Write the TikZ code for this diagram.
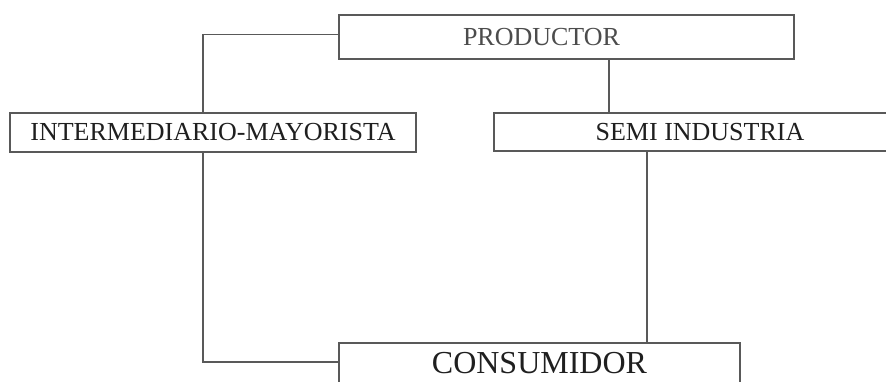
\documentclass[tikz,border=0pt]{standalone}
\usepackage{fontspec}
\setmainfont{Liberation Serif}
\begin{document}
\begin{tikzpicture}[x=1pt,y=-1pt,
    caja/.style={draw=black!65, line width=1.2pt, rectangle, inner sep=0pt, text=black!88, font=\fontsize{26}{28}\selectfont},
    linea/.style={draw=black!65, line width=1.2pt}]
    \clip (0,0) rectangle (886,382);
    \node [caja, text=black!70, minimum height=44pt, inner xsep=124pt, text width=207pt, align=left] (prod) at (566.5,37) {PRODUCTOR};
    \node [caja, minimum width=406pt, minimum height=39pt] (inter) at (213,132.5) {INTERMEDIARIO-MAYORISTA};
    \node [caja, minimum width=412pt, minimum height=38pt] (semi) at (700,132) {SEMI INDUSTRIA};
    \node [caja, font=\fontsize{32}{34}\selectfont, minimum width=401pt, minimum height=41pt] (cons) at (539.5,363.5) {CONSUMIDOR};
    \draw [linea] ([yshift=2.5pt]prod.west) -| ([xshift=-10pt]inter.north);
    \draw [linea] ([xshift=42.5pt]prod.south) -- ([xshift=-91pt]semi.north);
    \draw [linea] ([xshift=-10pt]inter.south) |- ([yshift=1.5pt]cons.west);
    \draw [linea] ([xshift=-53pt]semi.south) -- ([xshift=107.5pt]cons.north);
\end{tikzpicture}
\end{document}
